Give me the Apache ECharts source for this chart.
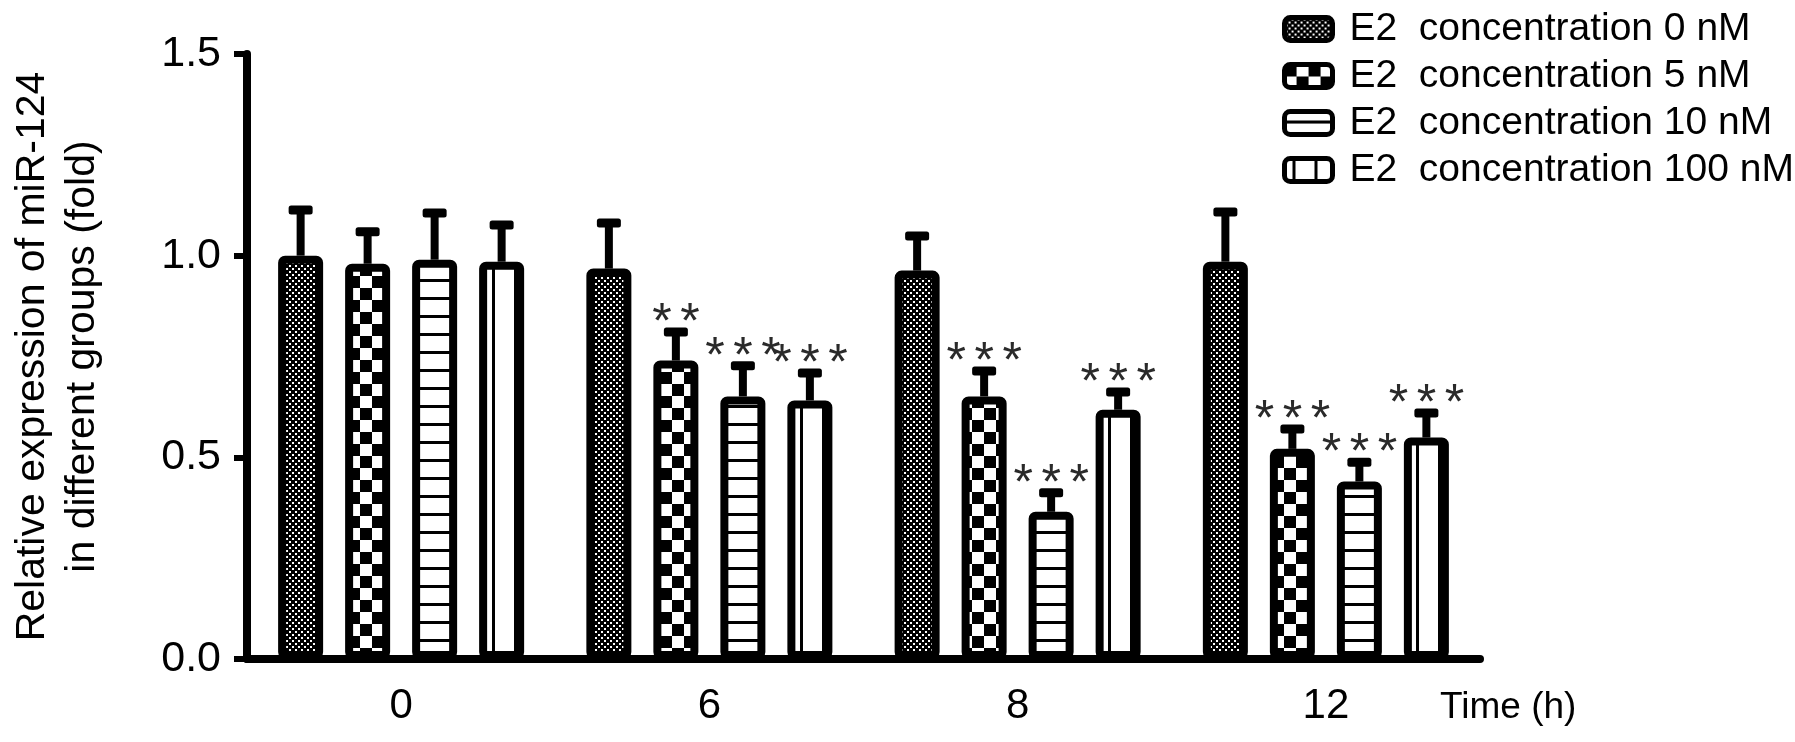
<!DOCTYPE html>
<html>
<head>
<meta charset="utf-8">
<script src="https://cdn.jsdelivr.net/npm/echarts@6/dist/echarts.min.js"></script>
<style>
html,body{margin:0;padding:0;background:#fff;}
#chart{width:1795px;height:742px;}
</style>
</head>
<body>
<div id="chart"></div>
<script>
// ---- data ----
const categories = ['0', '6', '8', '12'];
const seriesNames = ['E2  concentration 0 nM', 'E2  concentration 5 nM', 'E2  concentration 10 nM', 'E2  concentration 100 nM'];
const yTicks = [0, 0.5, 1.0, 1.5];

const mean0 = [1.00, 0.968, 0.963, 0.985];
const err0  = [0.113, 0.113, 0.086, 0.123];
const sig0  = ['', '', '', ''];

const mean5 = [0.98, 0.74, 0.651, 0.521];
const err5  = [0.079, 0.071, 0.063, 0.049];
const sig5  = ['', '**', '***', '***'];

const mean10 = [0.99, 0.651, 0.365, 0.44];
const err10  = [0.116, 0.076, 0.047, 0.048];
const sig10  = ['', '***', '***', '***'];

const mean100 = [0.985, 0.641, 0.618, 0.549];
const err100  = [0.091, 0.068, 0.044, 0.061];
const sig100  = ['', '***', '***', '***'];

// ---- styling ----
const FONT = '"Liberation Sans", Arial, sans-serif';
const BAR_W = 45, BAR_GAP = 22, BAR_STEP = BAR_W + BAR_GAP;
const STAR_STEP = 28;

function makeCanvas(w, h, draw) {
  const c = document.createElement('canvas');
  c.width = w; c.height = h;
  const ctx = c.getContext('2d');
  draw(ctx);
  return c;
}
const pDots = makeCanvas(6, 6, ctx => {
  ctx.fillStyle = '#000'; ctx.fillRect(0, 0, 6, 6);
  ctx.fillStyle = '#fff'; ctx.fillRect(1, 1, 2, 2); ctx.fillRect(4, 4, 2, 2);
});
const pChecker = makeCanvas(24, 24, ctx => {
  ctx.fillStyle = '#fff'; ctx.fillRect(0, 0, 24, 24);
  ctx.fillStyle = '#000'; ctx.fillRect(0, 0, 12, 12); ctx.fillRect(12, 12, 12, 12);
});
const pHoriz = makeCanvas(4, 18, ctx => {
  ctx.fillStyle = '#fff'; ctx.fillRect(0, 0, 4, 18);
  ctx.fillStyle = '#000'; ctx.fillRect(0, 9, 4, 3);
});
const pVert = makeCanvas(22, 4, ctx => {
  ctx.fillStyle = '#fff'; ctx.fillRect(0, 0, 22, 4);
  ctx.fillStyle = '#000'; ctx.fillRect(8, 0, 3, 4);
});
const patterns = [pDots, pChecker, pHoriz, pVert];
const means = [mean0, mean5, mean10, mean100];
const errs = [err0, err5, err10, err100];
const sigs = [sig0, sig5, sig10, sig100];

const barSeries = seriesNames.map((name, s) => ({
  type: 'bar',
  name: name,
  data: means[s],
  barWidth: BAR_W,
  barGap: (BAR_GAP / BAR_W * 100).toFixed(1) + '%',
  itemStyle: {
    color: { image: patterns[s], repeat: 'repeat' },
    borderColor: '#000',
    borderWidth: 8,
    borderRadius: 3
  },
  z: 2
}));

const errSeries = seriesNames.map((name, s) => ({
  type: 'custom',
  name: 'err' + s,
  z: 5,
  data: means[s].map((m, i) => [i, m, errs[s][i]]),
  encode: { x: 0, y: 1 },
  renderItem: function (params, api) {
    const i = api.value(0), m = api.value(1), e = api.value(2);
    const pb = api.coord([i, m]);
    const pt = api.coord([i, m + e]);
    const cx = pb[0] + (s - 1.5) * BAR_STEP;
    const children = [
      { type: 'rect', shape: { x: cx - 4, y: pt[1], width: 8, height: pb[1] - pt[1] }, style: { fill: '#000' } },
      { type: 'rect', shape: { x: cx - 12, y: pt[1] - 4.5, width: 24, height: 9, r: 2.5 }, style: { fill: '#000' } }
    ];
    const t = sigs[s][params.dataIndex];
    const n = t.length;
    for (let k = 0; k < n; k++) {
      children.push({
        type: 'text',
        style: { text: t[k], x: cx + (k - (n - 1) / 2) * STAR_STEP, y: pt[1] - 8, align: 'center', verticalAlign: 'middle',
                 font: '50px ' + FONT, fill: '#2a2a2a' }
      });
    }
    return { type: 'group', children: children };
  }
}));

const chart = echarts.init(document.getElementById('chart'), null, { renderer: 'canvas' });
chart.setOption({
  animation: false,
  backgroundColor: '#fff',
  grid: { left: 244, right: 315, top: 54, bottom: 83, containLabel: false },
  legend: {
    data: seriesNames,
    orient: 'vertical',
    left: 1277,
    top: 4,
    itemWidth: 48,
    itemHeight: 23,
    itemGap: 7,
    icon: 'roundRect',
    itemStyle: { borderColor: '#000', borderWidth: 5 },
    textStyle: { fontSize: 39, fontFamily: FONT, color: '#000', lineHeight: 40, padding: [0, 0, 0, 12] }
  },
  xAxis: {
    type: 'category',
    data: categories,
    name: 'Time (h)',
    nameLocation: 'end',
    nameGap: -40,
    nameTextStyle: { fontSize: 37, fontFamily: FONT, color: '#000', align: 'left', verticalAlign: 'top', padding: [30, 0, 0, 0] },
    axisLine: { lineStyle: { color: '#000', width: 8 } },
    axisTick: { alignWithLabel: true, length: 13, lineStyle: { color: '#000', width: 6 } },
    axisLabel: { fontSize: 42, fontFamily: FONT, color: '#000', margin: 26 },
    splitLine: { show: false }
  },
  yAxis: {
    type: 'value',
    min: yTicks[0],
    max: yTicks[yTicks.length - 1],
    interval: 0.5,
    name: 'Relative expression of miR-124\nin different groups (fold)',
    nameLocation: 'middle',
    nameRotate: 90,
    nameGap: 139,
    nameTextStyle: { fontSize: 41, fontFamily: FONT, color: '#000', lineHeight: 50 },
    axisLine: { show: true, lineStyle: { color: '#000', width: 8 } },
    axisTick: { show: true, length: 13, lineStyle: { color: '#000', width: 6 } },
    axisLabel: { fontSize: 43, fontFamily: FONT, color: '#000', margin: 26, formatter: v => v.toFixed(1) },
    splitLine: { show: false }
  },
  series: barSeries.concat(errSeries)
});
</script>
</body>
</html>
